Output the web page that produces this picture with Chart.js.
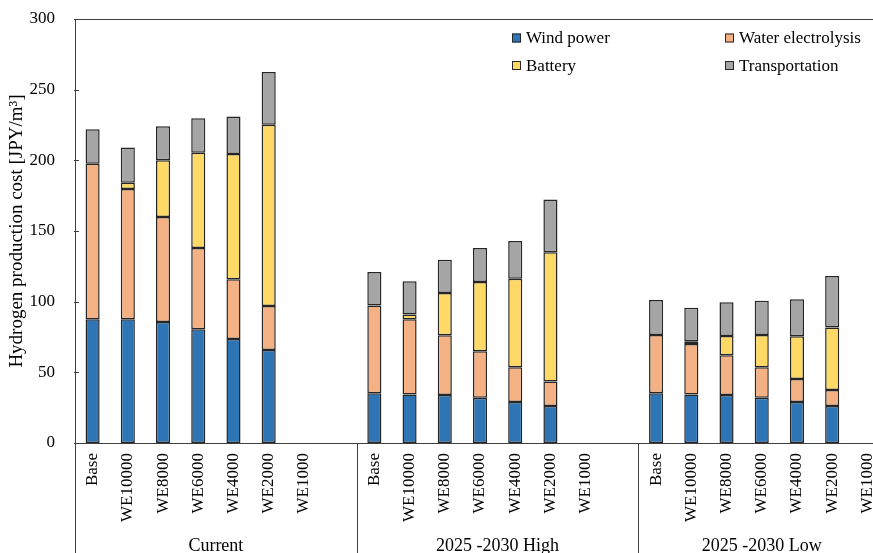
<!DOCTYPE html>
<html>
<head>
<meta charset="utf-8">
<script src="https://cdn.jsdelivr.net/npm/chart.js@4/dist/chart.umd.min.js"></script>
<style>
  html, body { margin: 0; padding: 0; background: #fff; overflow: hidden; }
  #wrap { width: 900px; height: 570px; }
</style>
</head>
<body>
<div id="wrap"><canvas id="c" width="900" height="570"></canvas></div>
<script>
// Scenario groups and cases (a blank slot follows each of the first two groups)
const groups = ['Current', '2025 -2030 High', '2025 -2030 Low'];
const cases = ['Base', 'WE10000', 'WE8000', 'WE6000', 'WE4000', 'WE2000', 'WE1000'];

// Cost components [JPY/m3], one entry per case; null = no result
const windCurrent      = [87.5, 87.5, 85.6, 80.4, 73.6, 65.8, null];
const waterCurrent     = [110.0, 92.2, 74.3, 57.6, 42.2, 31.1, null];
const batteryCurrent   = [0, 4.5, 40.1, 67.4, 88.7, 128.3, null];
const transportCurrent = [24.5, 24.8, 24.1, 24.3, 26.6, 37.3, null];

const windHigh      = [35.2, 34.4, 34.0, 32.1, 29.0, 26.2, null];
const waterHigh     = [62.0, 53.1, 42.2, 32.8, 24.6, 17.4, null];
const batteryHigh   = [0, 3.5, 30.0, 49.0, 62.7, 91.3, null];
const transportHigh = [23.8, 23.4, 23.5, 24.1, 26.6, 37.3, null];

const windLow      = [35.2, 34.4, 34.0, 32.1, 29.0, 26.2, null];
const waterLow     = [41.2, 35.6, 28.0, 21.5, 16.3, 11.3, null];
const batteryLow   = [0, 2.0, 13.7, 22.8, 30.2, 44.3, null];
const transportLow = [24.8, 23.7, 23.8, 24.3, 26.2, 36.4, null];

const yTicks = [0, 50, 100, 150, 200, 250, 300];

const seriesNames = ['Wind power', 'Water electrolysis', 'Battery', 'Transportation'];
const seriesColors = ['#2E75B6', '#F4B183', '#FFD966', '#A5A5A5'];

// Flatten groups into one category axis, with a spacer slot between groups
const labels = [...cases, '', ...cases, '', ...cases];
const join = (a, b, c) => [...a, null, ...b, null, ...c];
const seriesData = [
  join(windCurrent, windHigh, windLow),
  join(waterCurrent, waterHigh, waterLow),
  join(batteryCurrent, batteryHigh, batteryLow),
  join(transportCurrent, transportHigh, transportLow)
];
const groupEnds = [cases.length, cases.length * 2 + 1]; // index of spacer slots

const FONT = "'Liberation Serif', 'Times New Roman', serif";
const AXIS = '#404040';

const decor = {
  id: 'decor',
  afterDraw(chart) {
    const ctx = chart.ctx;
    const ca = chart.chartArea;
    const x = chart.scales.x;
    const y = chart.scales.y;
    const H = chart.height;
    const slot = x.getPixelForValue(1) - x.getPixelForValue(0);
    ctx.save();
    ctx.strokeStyle = AXIS;
    ctx.lineWidth = 1;
    // top border of plot
    ctx.beginPath();
    ctx.moveTo(ca.left, Math.round(ca.top) + 0.5);
    ctx.lineTo(ca.right + 20, Math.round(ca.top) + 0.5);
    ctx.stroke();
    // left axis continues through category area
    ctx.beginPath();
    ctx.moveTo(Math.round(ca.left) + 0.5, ca.top);
    ctx.lineTo(Math.round(ca.left) + 0.5, H);
    ctx.stroke();
    // small y ticks
    yTicks.forEach(v => {
      const py = Math.round(y.getPixelForValue(v)) + 0.5;
      ctx.beginPath();
      ctx.moveTo(ca.left - 1, py);
      ctx.lineTo(ca.left + 4, py);
      ctx.stroke();
    });
    // group separators
    const seps = groupEnds.map(i => x.getPixelForValue(i) + slot / 2);
    seps.forEach(px => {
      const sx = Math.round(px) + 0.5;
      ctx.beginPath();
      ctx.moveTo(sx, ca.bottom);
      ctx.lineTo(sx, H);
      ctx.stroke();
    });
    // group labels
    const bounds = [ca.left, seps[0], seps[1], x.getPixelForValue(labels.length - 1) + slot / 2];
    ctx.fillStyle = '#000';
    ctx.font = '18px ' + FONT;
    ctx.textAlign = 'center';
    ctx.textBaseline = 'alphabetic';
    groups.forEach((g, i) => {
      ctx.fillText(g, (bounds[i] + bounds[i + 1]) / 2, 551);
    });
    // legend, two columns inside the plot
    const colX = [512, 725];
    const rowY = [38, 65.5];
    ctx.font = '17px ' + FONT;
    ctx.textAlign = 'left';
    ctx.textBaseline = 'middle';
    seriesNames.forEach((name, i) => {
      const lx = colX[i % 2];
      const ly = rowY[Math.floor(i / 2)];
      ctx.fillStyle = seriesColors[i];
      ctx.fillRect(lx, ly - 4.5, 9, 9);
      ctx.strokeStyle = '#262626';
      ctx.strokeRect(lx + 0.5, ly - 4, 8, 8);
      ctx.fillStyle = '#000';
      ctx.fillText(name, lx + 14, ly + 1);
    });
    ctx.restore();
  }
};

new Chart(document.getElementById('c'), {
  type: 'bar',
  data: {
    labels: labels,
    datasets: seriesNames.map((n, i) => ({
      label: n,
      data: seriesData[i],
      backgroundColor: seriesColors[i],
      borderColor: '#262626',
      borderWidth: 1.5,
      borderSkipped: false,
      categoryPercentage: 1.0,
      barPercentage: 0.4
    }))
  },
  options: {
    responsive: false,
    animation: false,
    devicePixelRatio: 1,
    layout: { padding: { top: 19, right: 15, left: 0, bottom: 0 } },
    plugins: { legend: { display: false }, tooltip: { enabled: false } },
    scales: {
      x: {
        stacked: true,
        grid: { display: false, drawTicks: false },
        border: { display: true, color: AXIS, width: 1 },
        ticks: {
          autoSkip: false, maxRotation: 90, minRotation: 90, padding: 10,
          color: '#000', font: { family: FONT, size: 17 }
        },
        afterFit: s => { s.height = 127; s.paddingLeft = 0; s.paddingRight = 0; }
      },
      y: {
        stacked: true,
        min: 0, max: 300,
        afterBuildTicks: s => { s.ticks = yTicks.map(v => ({ value: v })); },
        grid: { display: false, drawTicks: false },
        border: { display: true, color: AXIS, width: 1 },
        ticks: { padding: 20, color: '#000', font: { family: FONT, size: 17 } },
        title: {
          display: true,
          text: 'Hydrogen production cost [JPY/m\u00B3]',
          color: '#000',
          font: { family: FONT, size: 19 },
          padding: { top: 6, bottom: 0 }
        },
        afterFit: s => { s.width = 75; s.paddingTop = 0; s.paddingBottom = 0; }
      }
    }
  },
  plugins: [decor]
});
</script>
</body>
</html>
